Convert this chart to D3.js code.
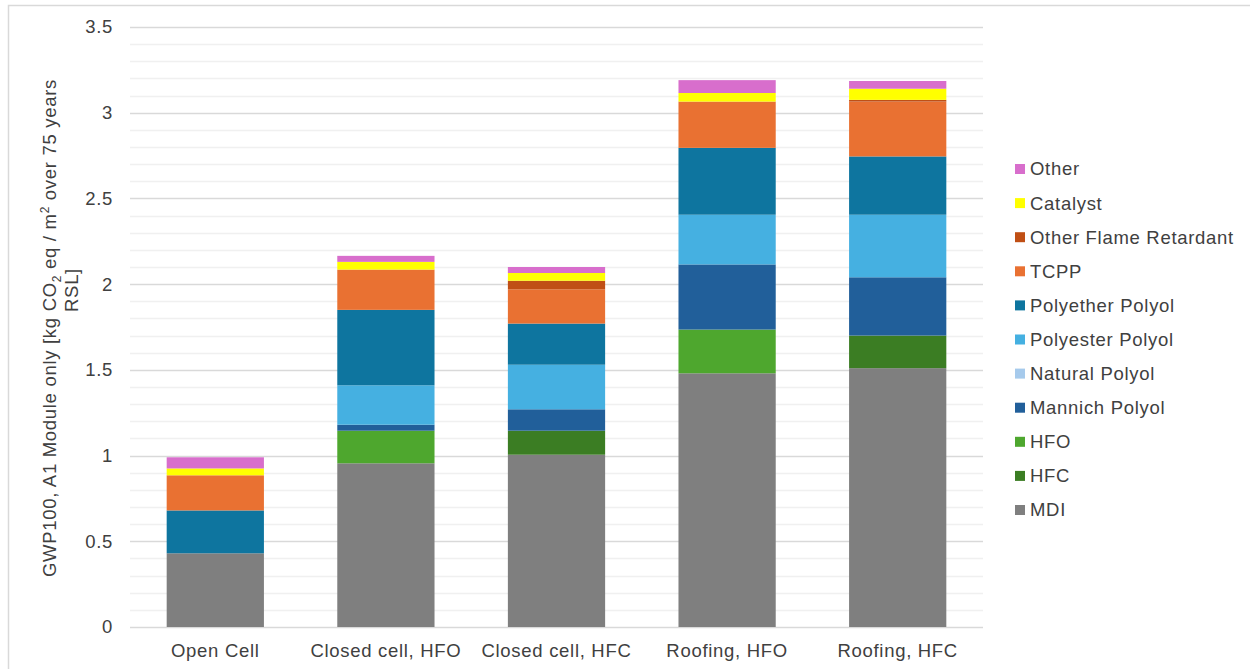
<!DOCTYPE html>
<html>
<head>
<meta charset="utf-8">
<script src="https://cdn.jsdelivr.net/npm/d3@7/dist/d3.min.js"></script>
<style>
  html, body { margin: 0; padding: 0; background: #ffffff; }
  svg { display: block; font-family: "Liberation Sans", Arial, sans-serif; }
  svg text { letter-spacing: 0.7px; }
</style>
</head>
<body>
<svg id="chart" width="1250" height="669"></svg>
<script>
// Foam formulations compared on the x axis
const categories = ["Open Cell", "Closed cell, HFO", "Closed cell, HFC", "Roofing, HFO", "Roofing, HFC"];

// Stack order from bottom to top
const seriesNames = ["MDI", "HFC", "HFO", "Mannich Polyol", "Natural Polyol", "Polyester Polyol",
                     "Polyether Polyol", "TCPP", "Other Flame Retardant", "Catalyst", "Other"];

// GWP100 contributions per formulation (kg CO2 eq / m2)
const mdi        = [0.43, 0.955, 1.005, 1.48, 1.51];
const hfc        = [0, 0, 0.14, 0, 0.19];
const hfo        = [0, 0.19, 0, 0.255, 0];
const mannich    = [0, 0.035, 0.125, 0.38, 0.34];
const natural    = [0, 0, 0, 0, 0];
const polyester  = [0, 0.23, 0.26, 0.29, 0.365];
const polyether  = [0.25, 0.44, 0.24, 0.39, 0.34];
const tcpp       = [0.205, 0.235, 0.2, 0.27, 0.32];
const otherFR    = [0, 0, 0.05, 0, 0.01];
const catalyst   = [0.04, 0.045, 0.045, 0.05, 0.065];
const other      = [0.065, 0.035, 0.035, 0.075, 0.045];

const yTicks = [0, 0.5, 1, 1.5, 2, 2.5, 3, 3.5];

const seriesValues = [mdi, hfc, hfo, mannich, natural, polyester, polyether, tcpp, otherFR, catalyst, other];
const colors = ["#7f7f7f", "#3b7d23", "#4ea72e", "#215f9a", "#a6caec", "#45b0e1",
                "#0e759f", "#e97132", "#c04f15", "#ffff00", "#d86ecc"];

const rows = categories.map((c, i) => {
  const r = { category: c };
  seriesNames.forEach((s, j) => { r[s] = seriesValues[j][i]; });
  return r;
});

const svg = d3.select("#chart");
const textColor = "#404040";
const fontSize = 18.5;

// chart frame
svg.append("rect")
  .attr("x", 8.5).attr("y", 5.5).attr("width", 1260).attr("height", 700)
  .attr("fill", "none").attr("stroke", "#d9d9d9").attr("stroke-width", 1.5);

const plot = { left: 130, right: 983, top: 27, bottom: 627 };

const x = d3.scaleBand()
  .domain(categories)
  .range([plot.left, plot.right])
  .paddingInner(0.43)
  .paddingOuter(0.215);

const y = d3.scaleLinear()
  .domain([0, 3.5])
  .range([plot.bottom, plot.top]);

// minor gridlines every 0.1
const minor = d3.range(1, 35).map(d => d / 10).filter(d => Math.abs(d * 2 - Math.round(d * 2)) > 1e-6);
svg.append("g").selectAll("line").data(minor).join("line")
  .attr("x1", plot.left).attr("x2", plot.right)
  .attr("y1", d => Math.round(y(d)) + 0.5).attr("y2", d => Math.round(y(d)) + 0.5)
  .attr("stroke", "#f0f0f0").attr("stroke-width", 1.5);

// major gridlines
svg.append("g").selectAll("line").data(yTicks).join("line")
  .attr("x1", plot.left).attr("x2", plot.right)
  .attr("y1", d => Math.round(y(d)) + 0.5).attr("y2", d => Math.round(y(d)) + 0.5)
  .attr("stroke", "#d9d9d9").attr("stroke-width", 1.5);

// stacked bars
const stack = d3.stack().keys(seriesNames);
const layers = stack(rows);

svg.append("g").selectAll("g").data(layers).join("g")
  .attr("fill", (d, i) => colors[i])
  .selectAll("rect").data(d => d.filter(p => p[1] - p[0] > 0)).join("rect")
  .attr("x", d => x(d.data.category))
  .attr("width", x.bandwidth())
  .attr("y", d => y(d[1]))
  .attr("height", d => y(d[0]) - y(d[1]));

// y axis labels
const yAxis = d3.axisLeft(y).tickValues(yTicks).tickSize(0).tickPadding(17)
  .tickFormat(d => d3.format("")(d));
const gy = svg.append("g").attr("transform", `translate(${plot.left},0)`).call(yAxis);
gy.select(".domain").remove();
gy.selectAll("text").attr("font-size", fontSize).attr("fill", textColor)
  .attr("font-family", "'Liberation Sans', Arial, sans-serif");

// x axis labels
const xAxis = d3.axisBottom(x).tickSize(0).tickPadding(17);
const gx = svg.append("g").attr("transform", `translate(0,${plot.bottom})`).call(xAxis);
gx.select(".domain").remove();
gx.selectAll("text").attr("font-size", fontSize).attr("fill", textColor)
  .attr("font-family", "'Liberation Sans', Arial, sans-serif");

// y axis title, two lines
const title = svg.append("text")
  .attr("transform", "translate(56,328) rotate(-90)")
  .attr("text-anchor", "middle")
  .attr("font-size", fontSize).attr("fill", textColor);
title.append("tspan").text("GWP100, A1 Module only [kg CO");
title.append("tspan").attr("font-size", 12).attr("dy", 5).text("2");
title.append("tspan").attr("dy", -5).text(" eq / m");
title.append("tspan").attr("font-size", 12).attr("dy", -7).text("2");
title.append("tspan").attr("dy", 7).text(" over 75 years");

svg.append("text")
  .attr("transform", "translate(78,290) rotate(-90)")
  .attr("text-anchor", "middle")
  .attr("font-size", fontSize).attr("fill", textColor)
  .text("RSL]");

// legend, top entry is the top of the stack
const legendItems = seriesNames.map((s, i) => ({ name: s, color: colors[i] })).reverse();
const legend = svg.append("g").attr("transform", "translate(1015,169)");
const li = legend.selectAll("g").data(legendItems).join("g")
  .attr("transform", (d, i) => `translate(0,${i * 34.1})`);
li.append("rect").attr("x", 0).attr("y", -5).attr("width", 10).attr("height", 10)
  .attr("fill", d => d.color);
li.append("text").attr("x", 15).attr("y", 0).attr("dy", "0.35em")
  .attr("font-size", fontSize).attr("fill", textColor)
  .text(d => d.name);
</script>
</body>
</html>
